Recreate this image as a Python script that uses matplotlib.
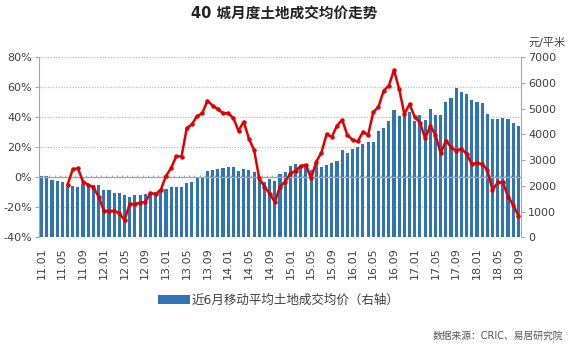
import matplotlib
matplotlib.use("Agg")
import matplotlib.pyplot as plt
from matplotlib.transforms import blended_transform_factory

plt.rcParams['font.family'] = ['DejaVu Sans', 'Noto Sans CJK SC']

# Months 2011.01 - 2018.09
months = [f"{y:02d}.{m:02d}" for y in range(11, 19) for m in range(1, 13)][:93]

# 6-month moving average land price (yuan / m2), right axis
avg_price = [2390, 2400, 2230, 2190, 2150, 1970, 2010, 1970, 2070, 2010,
             2030, 2030, 1840, 1840, 1740, 1710, 1630, 1580, 1645, 1645,
             1680, 1770, 1770, 1870, 1870, 1970, 1970, 1970, 2100, 2160,
             2340, 2360, 2590, 2620, 2640, 2680, 2715, 2750, 2590, 2670,
             2630, 2550, 2350, 2140, 2250, 2180, 2460, 2550, 2780, 2850,
             2775, 2760, 2630, 2850, 2720, 2810, 2880, 2970, 3410, 3280,
             3440, 3520, 3630, 3720, 3720, 4150, 4240, 4535, 4950, 4720,
             4720, 4885, 4530, 4756, 4562, 4990, 4756, 4756, 5250, 5406,
             5794, 5640, 5573, 5340, 5250, 5211, 4783, 4600, 4600, 4652,
             4600, 4457, 4328]

# Year-on-year change (%), left axis, starting 2011.06
yoy_start = "11.06"
yoy_pct = [-5.1, 5.3, 6.0, -2.9, -5.1, -6.7, -12.9, -22.2, -22.7, -22.2,
           -24.0, -28.5, -17.8, -17.8, -16.9, -16.5, -10.5, -11.2, -8.3, 0.9,
           6.2, 14.2, 13.8, 32.7, 35.4, 40.7, 42.7, 51.0, 47.8, 45.5,
           42.7, 42.7, 39.5, 31.0, 37.1, 25.8, 18.2, -0.7, -6.2, -10.9,
           -16.5, -6.2, -2.9, 2.5, 4.4, 7.5, 8.2, -0.7, 10.4, 16.5,
           28.8, 26.9, 34.5, 38.2, 28.2, 24.9, 23.9, 30.3, 28.2, 43.4,
           47.0, 57.7, 61.1, 71.5, 58.7, 42.2, 48.8, 40.2, 36.5, 26.0,
           34.3, 28.2, 16.0, 24.4, 20.1, 17.5, 19.2, 15.5, 8.9, 9.5,
           8.9, 4.9, -8.5, -3.4, -3.4, -12.9, -18.5, -25.6]

tick_labels = ["11.01", "11.05", "11.09", "12.01", "12.05", "12.09",
               "13.01", "13.05", "13.09", "14.01", "14.05", "14.09",
               "15.01", "15.05", "15.09", "16.01", "16.05", "16.09",
               "17.01", "17.05", "17.09", "18.01", "18.05", "18.09"]

left_ticks = [-40, -20, 0, 20, 40, 60, 80]
right_ticks = [0, 1000, 2000, 3000, 4000, 5000, 6000, 7000]

legend_label = "近6月移动平均土地成交均价（右轴）"
title = "40 城月度土地成交均价走势"
unit = "元/平米"
source = "数据来源：CRIC、易居研究院"

BAR = "#2F74B5"
RED = "#E00000"
AXC = "#A6A6A6"
TXT = "#404040"

fig = plt.figure(figsize=(5.68, 3.47), dpi=100)
ax = fig.add_axes([39 / 568, 109.7 / 347, 482 / 568, 180 / 347])
ax2 = ax.twinx()

x_all = list(range(len(months)))
x_yoy = list(range(months.index(yoy_start), len(months)))

ax.set_xlim(-0.5, len(months) - 0.5)
ax.set_ylim(-40, 80)
ax2.set_ylim(0, 7000)

# dotted horizontal gridlines behind the bars
tr = blended_transform_factory(ax2.transAxes, ax.transData)
for g in [-20, 20, 40, 60, 80]:
    ax2.plot([0, 1], [g, g], transform=tr, color="#BFBFBF", lw=0.9,
             ls=(0, (1, 1.2)), zorder=0.5)

bars = ax2.bar(x_all, avg_price, width=0.6, color=BAR, zorder=2,
               label=legend_label)

# category axis crossing at 0%
ax.axhline(0, color=AXC, lw=1.0, zorder=3)
ax.vlines([i - 0.5 for i in range(len(months) + 1)], 0, 1.3,
          color=AXC, lw=0.7, zorder=3)

ax.plot(x_yoy, yoy_pct, color=RED, lw=1.8, marker="o", ms=3.2,
        markeredgewidth=0, zorder=4)

ax.set_zorder(ax2.get_zorder() + 1)
ax.patch.set_visible(False)

# axes styling
for a in (ax, ax2):
    a.spines["top"].set_visible(False)
    a.spines["bottom"].set_visible(False)
ax.spines["right"].set_visible(False)
ax2.spines["left"].set_visible(False)
ax.spines["left"].set_color(AXC)
ax2.spines["right"].set_color(AXC)

ax.set_yticks(left_ticks)
ax.set_yticklabels([f"{v}%" for v in left_ticks])
ax2.set_yticks(right_ticks)
ax2.set_yticklabels([str(v) for v in right_ticks])
ax.tick_params(axis="y", length=3, color=AXC, labelsize=8, labelcolor=TXT, pad=2)
ax2.tick_params(axis="y", length=3, color=AXC, labelsize=8, labelcolor=TXT, pad=2)

ax.set_xticks([months.index(t) for t in tick_labels])
ax.set_xticklabels(tick_labels, rotation=90, fontsize=8, color=TXT)
ax.tick_params(axis="x", length=0, pad=7)

fig.text(0.5, 1 - 14 / 347, title, ha="center", va="center",
         fontsize=10.5, fontweight="bold", color="#222222")
fig.text(547 / 568, 1 - 43 / 347, unit, ha="center", va="center",
         fontsize=8, color=TXT)
fig.text(563 / 568, 1 - 336 / 347, source, ha="right", va="center",
         fontsize=7, color="#555555")

fig.legend(handles=[bars], labels=[legend_label], loc="center",
           bbox_to_anchor=(0.49, 1 - 300 / 347), frameon=False,
           fontsize=9, handlelength=2.6, handleheight=0.75,
           handletextpad=0.1, labelcolor=TXT)

fig.savefig("out.png", dpi=100, facecolor="white")
